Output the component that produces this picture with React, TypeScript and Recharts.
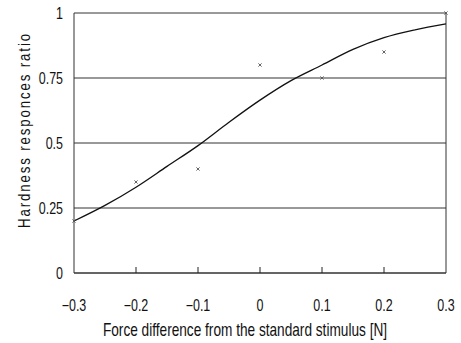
import { ComposedChart, Line, Scatter, XAxis, YAxis, CartesianGrid, ReferenceLine } from 'recharts';

const CURVE_X = [-0.3, -0.25, -0.2, -0.15, -0.1, -0.05, 0, 0.05, 0.1, 0.15, 0.2, 0.25, 0.3];
const CURVE_Y = [0.2, 0.26, 0.33, 0.41, 0.49, 0.58, 0.665, 0.74, 0.8, 0.86, 0.905, 0.935, 0.958];

const OBS_X = [-0.3, -0.2, -0.1, 0, 0.1, 0.2, 0.3];
const OBS_Y = [0.2, 0.35, 0.4, 0.8, 0.75, 0.85, 1.0];

const X_TICKS = [-0.3, -0.2, -0.1, 0, 0.1, 0.2, 0.3];
const Y_TICKS = [0, 0.25, 0.5, 0.75, 1];

const curve = CURVE_X.map((x, i) => ({ x, fit: CURVE_Y[i] }));
const observed = OBS_X.map((x, i) => ({ x, y: OBS_Y[i] }));

const FONT = '"Liberation Sans", Arial, sans-serif';
const SQUEEZE = 0.78;

const fmtX = (v: number) => (v === 0 ? '0' : v < 0 ? `\u2212${Math.abs(v)}` : `${v}`);

// narrow label, drawn like the condensed font of the original
const Narrow = ({ x, y, anchor, size, children, rotate = 0, spacing = 0 }: any) => (
  <text
    transform={`translate(${x},${y}) rotate(${rotate}) scale(${SQUEEZE},1)`}
    x={0}
    y={0}
    textAnchor={anchor}
    dominantBaseline="central"
    fontFamily={FONT}
    fontSize={size}
    letterSpacing={spacing}
    fill="#111"
  >
    {children}
  </text>
);

const XTick = (props: any) => {
  const { x, y, payload } = props;
  const isEdge = payload.value === -0.3 || payload.value === 0.3;
  return (
    <g>
      {!isEdge && <line x1={x} x2={x} y1={273} y2={267} stroke="#222" strokeWidth={1} />}
      <Narrow x={x} y={y + 24} anchor="middle" size={16}>
        {fmtX(payload.value)}
      </Narrow>
    </g>
  );
};

const YTick = (props: any) => {
  const { x, y, payload } = props;
  return (
    <Narrow x={x} y={y} anchor="end" size={16}>
      {payload.value}
    </Narrow>
  );
};

const Cross = (props: any) => {
  const { cx, cy } = props;
  const s = 1.6;
  return (
    <g stroke="#555" strokeWidth={0.9}>
      <line x1={cx - s} y1={cy - s} x2={cx + s} y2={cy + s} />
      <line x1={cx - s} y1={cy + s} x2={cx + s} y2={cy - s} />
    </g>
  );
};

export default function App() {
  return (
    <div style={{ position: 'absolute', left: 0, top: 0, width: 461, height: 343, background: '#fff' }}>
      <ComposedChart width={461} height={343} margin={{ top: 13, right: 15, left: 0, bottom: 0 }}>
        <CartesianGrid horizontal vertical={false} stroke="#333" strokeWidth={1} />
        <XAxis
          dataKey="x"
          type="number"
          domain={[-0.3, 0.3]}
          ticks={X_TICKS}
          tick={<XTick />}
          tickLine={false}
          axisLine={{ stroke: '#333' }}
          height={70}
          allowDuplicatedCategory={false}
        />
        <YAxis
          type="number"
          domain={[0, 1]}
          ticks={Y_TICKS}
          tickLine={false}
          axisLine={{ stroke: '#333' }}
          width={74}
          tick={<YTick />}
          tickMargin={5}
        />
        <ReferenceLine x={0.3} stroke="#333" />
        <Line
          data={curve}
          dataKey="fit"
          type="monotone"
          stroke="#111"
          strokeWidth={1.3}
          dot={false}
          isAnimationActive={false}
        />
        <Scatter data={observed} dataKey="y" shape={<Cross />} isAnimationActive={false} />
        <Narrow x={24} y={130} rotate={-90} anchor="middle" size={17} spacing={2.4}>
          Hardness responces ratio
        </Narrow>
        <Narrow x={245} y={330} anchor="middle" size={17.5}>
          Force difference from the standard stimulus [N]
        </Narrow>
      </ComposedChart>
    </div>
  );
}
